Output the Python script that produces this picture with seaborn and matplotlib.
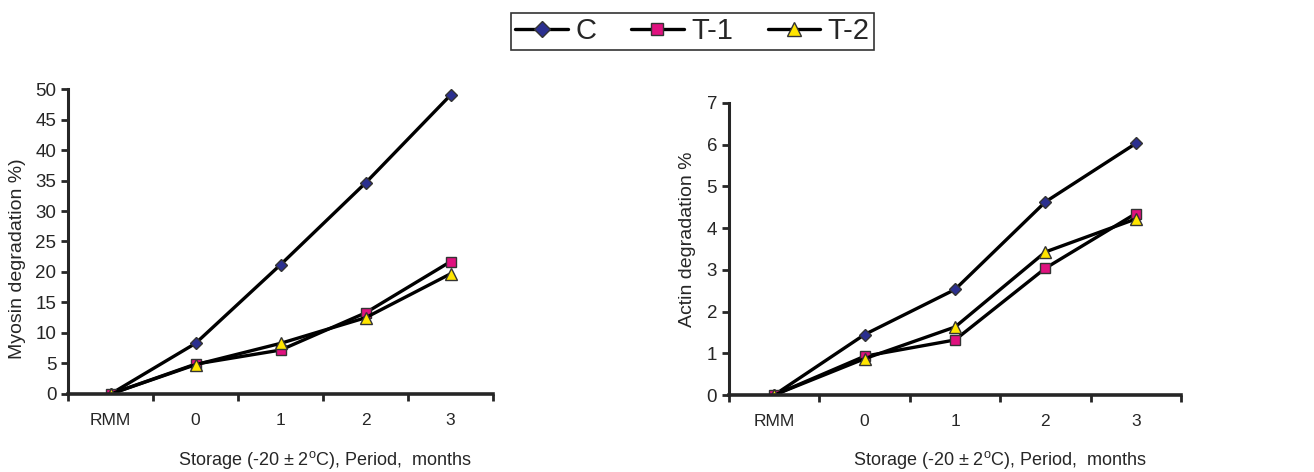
import matplotlib
matplotlib.use("Agg")
import matplotlib.pyplot as plt
import pandas as pd
import seaborn as sns
from matplotlib.ticker import FixedLocator

# Data
periods = ["RMM", "0", "1", "2", "3"]
groups = ["C", "T-1", "T-2"]

myosin_c = [0, 8.3, 21.2, 34.6, 49.0]
myosin_t1 = [0, 4.9, 7.2, 13.3, 21.7]
myosin_t2 = [0, 4.8, 8.3, 12.5, 19.7]

actin_c = [0, 1.45, 2.53, 4.63, 6.03]
actin_t1 = [0, 0.93, 1.32, 3.04, 4.35]
actin_t2 = [0, 0.87, 1.63, 3.43, 4.22]

sns.set_style("ticks")
plt.rcParams['font.family'] = ['Liberation Sans', 'DejaVu Sans']
plt.rcParams['mathtext.fontset'] = 'custom'
plt.rcParams['mathtext.rm'] = 'Liberation Sans'

markers = {"C": "D", "T-1": "s", "T-2": "^"}
faces = {"C": "#2b2f8f", "T-1": "#e0117f", "T-2": "#ffe500"}
msizes = {"C": 6.5, "T-1": 7, "T-2": 8.5}

fig = plt.figure(figsize=(13.14, 4.72), dpi=100)
ax1 = fig.add_axes([0.0518, 0.1653, 0.3234, 0.6461])
ax2 = fig.add_axes([0.5548, 0.1631, 0.344, 0.6187])

xlabel = r'Storage (-20 ± 2$^{\mathregular{o}}$C), Period,  months'


def draw_panel(ax, series, ymax, ylabel):
    for g, vals in zip(groups, series):
        df = pd.DataFrame({"x": range(len(periods)), "y": vals})
        sns.lineplot(data=df, x="x", y="y", ax=ax, color="black", lw=2.4,
                     marker=markers[g], markersize=msizes[g],
                     markerfacecolor=faces[g], markeredgecolor="#333333",
                     markeredgewidth=1.0, label=g, legend=False)
    ax.set_xlim(-0.5, len(periods) - 0.5)
    ax.set_ylim(0, ymax)
    # tick marks between categories, labels at centres
    ax.xaxis.set_major_locator(FixedLocator([i - 0.5 for i in range(len(periods) + 1)]))
    ax.xaxis.set_minor_locator(FixedLocator(range(len(periods))))
    ax.set_xticklabels([""] * (len(periods) + 1))
    ax.set_xticklabels(periods, minor=True)
    ax.tick_params(axis="x", which="major", length=5, width=2, direction="out")
    ax.tick_params(axis="x", which="minor", length=0, labelsize=12.5, pad=14)
    ax.tick_params(axis="y", length=5, width=2, direction="out", labelsize=13.5)
    for s in ["top", "right"]:
        ax.spines[s].set_visible(False)
    ax.spines["left"].set_linewidth(2.2)
    ax.spines["bottom"].set_linewidth(2.6)
    ax.set_xlabel(xlabel, fontsize=13)
    ax.set_ylabel(ylabel, fontsize=14)


draw_panel(ax1, [myosin_c, myosin_t1, myosin_t2], 50, "Myosin degradation %)")
ax1.set_yticks(range(0, 51, 5))
ax1.xaxis.set_label_coords(0.605, -0.18)
ax1.yaxis.set_label_coords(-0.1, 0.443)

draw_panel(ax2, [actin_c, actin_t1, actin_t2], 7, "Actin degradation %")
ax2.set_yticks(range(0, 8))
ax2.xaxis.set_label_coords(0.6, -0.185)
ax2.yaxis.set_label_coords(-0.073, 0.534)

handles, labels = ax1.get_legend_handles_labels()
leg = fig.legend(handles, labels, loc="center", bbox_to_anchor=(0.527, 0.934),
                 ncol=3, fontsize=21, frameon=True, fancybox=False,
                 handlelength=1.8, handletextpad=0.25, columnspacing=1.2,
                 borderpad=0.15, markerscale=1.2)
leg.get_frame().set_edgecolor("black")
leg.get_frame().set_linewidth(1.2)

fig.savefig("out.png", dpi=100)
